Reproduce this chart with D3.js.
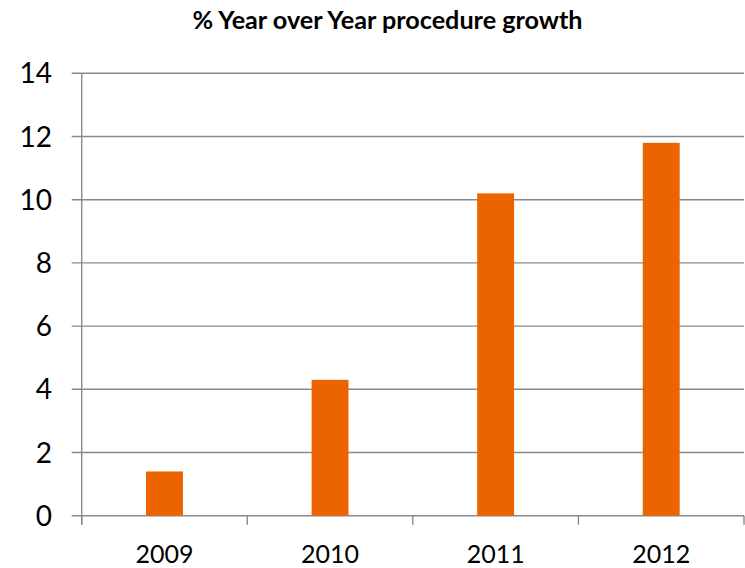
<!DOCTYPE html>
<html>
<head>
<meta charset="utf-8">
<script src="https://cdnjs.cloudflare.com/ajax/libs/d3/7.8.5/d3.min.js"></script>
<style>
  html, body { margin: 0; padding: 0; background: #fff; }
  svg { display: block; }
</style>
</head>
<body>
<div id="chart"></div>
<script>
// Year-over-year procedure growth, percent
const years = ["2009", "2010", "2011", "2012"];
const growth = [1.4, 4.3, 10.2, 11.8];
const yTicks = [0, 2, 4, 6, 8, 10, 12, 14];
const chartTitle = "% Year over Year procedure growth";

const W = 745, H = 568;
const plot = { left: 81.7, right: 744, top: 73.3, bottom: 515.7 };

const svg = d3.select("#chart").append("svg")
  .attr("width", W).attr("height", H);

const x = d3.scaleBand()
  .domain(years)
  .range([plot.left, plot.right])
  .paddingInner(0.777)
  .paddingOuter(0.3885);

const y = d3.scaleLinear()
  .domain([0, 14])
  .range([plot.bottom, plot.top]);

const gridColor = "#8a8a8a";

// horizontal gridlines with a short outward tick on the left
svg.append("g")
  .selectAll("line")
  .data(yTicks)
  .join("line")
  .attr("x1", plot.left - 10)
  .attr("x2", plot.right)
  .attr("y1", d => y(d))
  .attr("y2", d => y(d))
  .attr("stroke", gridColor)
  .attr("stroke-width", 1.4);

// vertical value axis line
svg.append("line")
  .attr("x1", plot.left).attr("x2", plot.left)
  .attr("y1", y(14)).attr("y2", plot.bottom + 9)
  .attr("stroke", gridColor)
  .attr("stroke-width", 1.4);

// category boundary ticks below the baseline
const edges = d3.range(years.length + 1).map(i => plot.left + i * (plot.right - plot.left) / years.length);
svg.append("g")
  .selectAll("line")
  .data(edges)
  .join("line")
  .attr("x1", d => d).attr("x2", d => d)
  .attr("y1", plot.bottom).attr("y2", plot.bottom + 9)
  .attr("stroke", gridColor)
  .attr("stroke-width", 1.4);

// bars
svg.append("g")
  .selectAll("rect")
  .data(years.map((yr, i) => ({ yr, v: growth[i] })))
  .join("rect")
  .attr("x", d => x(d.yr))
  .attr("width", x.bandwidth())
  .attr("y", d => y(d.v))
  .attr("height", d => y(0) - y(d.v))
  .attr("fill", "#ec6400");

const font = "Lato, 'Open Sans', sans-serif";

// value axis labels
svg.append("g")
  .selectAll("text")
  .data(yTicks)
  .join("text")
  .attr("x", 52)
  .attr("y", d => y(d))
  .attr("dy", "0.36em")
  .attr("text-anchor", "end")
  .attr("font-family", font)
  .attr("font-size", 28)
  .attr("fill", "#000")
  .text(d => d);

// category labels
svg.append("g")
  .selectAll("text")
  .data(years)
  .join("text")
  .attr("x", d => x(d) + x.bandwidth() / 2)
  .attr("y", 563)
  .attr("text-anchor", "middle")
  .attr("font-family", font)
  .attr("font-size", 25)
  .attr("fill", "#000")
  .text(d => d);

// title
svg.append("text")
  .attr("x", 387.5)
  .attr("y", 28.5)
  .attr("text-anchor", "middle")
  .attr("font-family", font)
  .attr("font-weight", "bold")
  .attr("font-size", 25.2)
  .attr("fill", "#000")
  .text(chartTitle);
</script>
</body>
</html>
